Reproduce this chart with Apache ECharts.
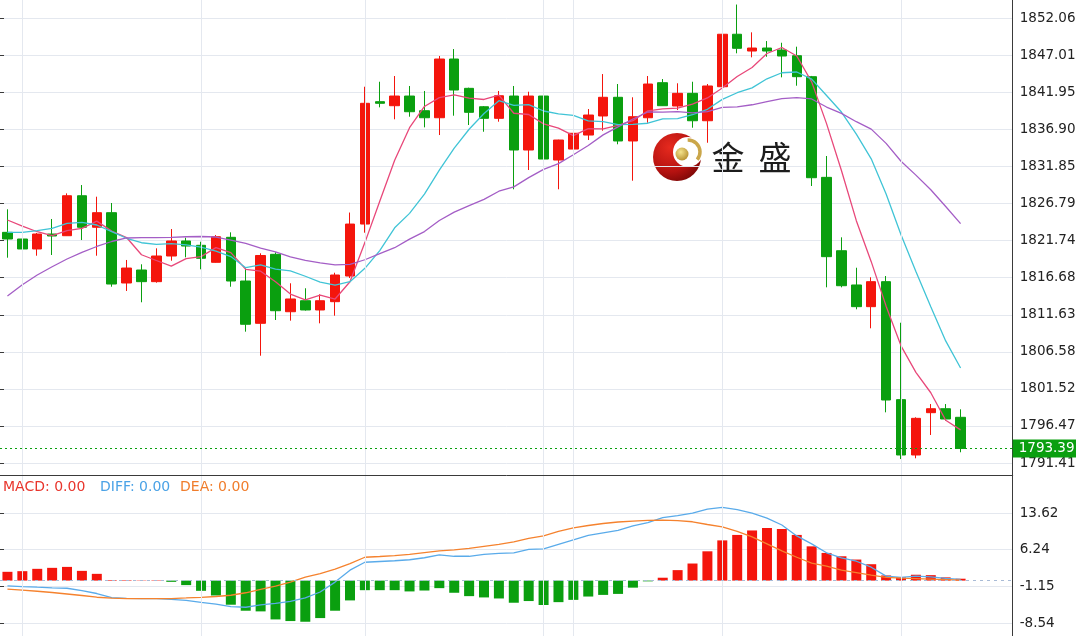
<!DOCTYPE html>
<html><head><meta charset="utf-8">
<script src="https://cdn.jsdelivr.net/npm/echarts@6/dist/echarts.min.js"></script>
<style>html,body{margin:0;padding:0;background:#fff}#c{width:1076px;height:636px}</style>
</head><body><div id="c"></div>
<script>
// ---------- data ----------
const categories = ["1","2","3","4","5","6","7","8","9","10","11","12","13","14","15","16","17","18","19","20",
"21","22","23","24","25","26","27","28","29","30","31","32","33","34","35","36","37","38","39","40",
"41","42","43","44","45","46","47","48","49","50","51","52","53","54","55","56","57","58","59","60",
"61","62","63","64","65","66","67","68"];

const opens = [1822.87,1821.96,1820.60,1822.64,1822.41,1827.86,1823.56,1825.55,1815.96,1817.73,
1816.14,1819.64,1821.69,1821.10,1818.78,1822.19,1816.23,1810.46,1819.87,1812.04,
1813.54,1812.28,1813.41,1816.91,1824.00,1840.69,1840.14,1841.46,1839.46,1838.50,
1846.51,1842.51,1840.00,1838.42,1841.46,1834.10,1841.46,1832.73,1834.23,1836.14,
1838.74,1841.29,1835.33,1838.50,1843.28,1840.10,1841.83,1838.09,1842.73,1849.89,
1847.60,1848.01,1847.74,1846.96,1844.10,1830.37,1820.36,1815.69,1812.73,1816.14,
1800.05,1792.50,1798.27,1798.81,1797.64];
const closes = [1821.96,1820.60,1822.64,1822.37,1827.86,1823.56,1825.55,1815.82,1818.00,1816.14,
1819.64,1821.69,1821.00,1819.33,1822.27,1816.23,1810.33,1819.71,1812.18,1813.78,
1812.28,1813.54,1817.05,1824.00,1840.47,1840.47,1841.46,1839.32,1838.50,1846.51,
1842.28,1839.24,1838.42,1841.50,1834.10,1841.46,1832.87,1835.46,1836.38,1838.87,
1841.29,1835.33,1838.64,1843.10,1840.14,1841.83,1838.09,1842.83,1849.89,1847.97,
1848.01,1847.60,1846.92,1844.10,1830.32,1819.55,1815.59,1812.73,1816.14,1800.00,
1792.50,1797.50,1798.81,1797.41,1793.39];
const lows = [1819.41,1812.59,1819.68,1819.78,1822.37,1821.82,1819.68,1815.45,1814.87,1813.33,
1816.00,1819.00,1819.46,1817.83,1818.73,1815.45,1809.32,1806.04,1810.91,1810.82,
1812.20,1810.46,1811.50,1816.64,1822.82,1839.92,1838.29,1838.64,1837.19,1836.14,
1838.78,1837.51,1836.59,1837.96,1828.74,1831.37,1831.60,1828.74,1831.96,1835.46,
1836.73,1834.88,1829.91,1837.82,1840.10,1839.55,1837.14,1835.09,1839.55,1847.29,
1846.74,1846.82,1844.01,1842.87,1829.19,1815.37,1815.37,1812.37,1809.78,1798.32,
1791.95,1792.05,1795.23,1797.18,1792.87];
const highs = [1826.01,1823.87,1822.78,1824.69,1828.19,1829.32,1827.73,1826.87,1819.10,1818.51,
1820.69,1823.32,1822.14,1821.59,1822.50,1822.87,1817.96,1820.01,1820.15,1815.92,
1815.24,1814.42,1817.36,1825.57,1842.73,1843.41,1844.19,1842.83,1842.15,1846.92,
1847.87,1842.60,1840.10,1842.15,1842.83,1842.05,1843.41,1835.50,1837.19,1839.69,
1844.46,1843.10,1841.29,1844.19,1843.78,1843.20,1843.41,1843.10,1852.96,1853.94,
1850.15,1848.96,1848.73,1848.19,1844.20,1833.28,1822.19,1818.04,1816.74,1816.91,
1810.54,1797.64,1799.45,1799.45,1798.73];

const ma5 = [1824.55,1823.73,1822.95,1822.41,1823.09,1823.41,1824.40,1823.03,1822.16,1819.81,
1819.03,1818.26,1819.29,1819.56,1820.79,1820.10,1817.83,1817.57,1816.14,1814.45,
1813.66,1814.30,1813.77,1816.13,1821.47,1827.11,1832.69,1837.14,1840.04,1841.25,
1841.61,1841.17,1840.99,1841.59,1839.11,1838.94,1837.67,1837.08,1836.05,1837.01,
1836.97,1837.47,1838.10,1839.45,1839.70,1839.81,1840.36,1841.20,1842.56,1844.12,
1845.36,1847.26,1848.08,1846.92,1843.39,1837.70,1831.30,1824.46,1818.87,1812.80,
1807.39,1803.77,1800.99,1797.24,1795.92];
const ma10 = [1822.87,1822.87,1823.09,1823.42,1824.10,1824.24,1823.87,1822.96,1822.06,1821.45,
1821.22,1821.33,1821.16,1820.86,1820.30,1819.57,1818.05,1818.43,1817.85,1817.62,
1816.88,1816.07,1815.67,1816.14,1817.96,1820.38,1823.49,1825.46,1828.09,1831.36,
1834.36,1836.93,1839.07,1840.82,1840.18,1840.28,1839.42,1839.03,1838.82,1838.06,
1837.96,1837.57,1837.59,1837.75,1838.35,1838.39,1838.91,1839.65,1841.00,1841.91,
1842.58,1843.81,1844.64,1844.74,1843.76,1841.53,1839.28,1836.27,1832.89,1828.10,
1822.55,1817.54,1812.72,1808.06,1804.36];
const ma20 = [1814.19,1815.73,1817.05,1818.18,1819.23,1820.14,1820.94,1821.62,1822.10,1822.14,
1822.14,1822.19,1822.27,1822.30,1822.23,1821.82,1821.35,1820.73,1820.19,1819.53,
1819.05,1818.70,1818.42,1818.50,1819.13,1819.97,1820.77,1821.94,1822.97,1824.49,
1825.62,1826.50,1827.37,1828.48,1829.07,1830.33,1831.46,1832.24,1833.45,1834.71,
1836.16,1837.25,1838.33,1839.28,1839.27,1839.34,1839.17,1839.34,1839.91,1839.98,
1840.27,1840.69,1841.11,1841.24,1841.06,1839.96,1839.10,1837.96,1836.95,1835.00,
1832.56,1830.67,1828.68,1826.40,1824.06];

const macdHist = [1.77,1.9,2.37,2.57,2.76,1.96,1.36,0.12,0.1,0.06,
0.08,-0.25,-0.91,-2.06,-3.0,-4.86,-6.07,-6.2,-7.82,-8.15,
-8.29,-7.55,-6.07,-3.99,-1.93,-1.93,-1.93,-2.18,-2.0,-1.52,
-2.45,-3.13,-3.39,-3.6,-4.46,-4.12,-4.92,-4.34,-3.88,-3.21,
-2.88,-2.68,-1.42,-0.15,0.58,2.11,3.44,5.9,8.1,9.2,
10.1,10.6,10.4,9.2,6.9,5.57,4.9,4.24,3.3,1.04,
0.64,1.18,1.1,0.65,0.38];
const diffLine = [-1.05,-1.2,-1.33,-1.45,-1.54,-2.0,-2.6,-3.45,-3.6,-3.65,
-3.62,-3.8,-4.0,-4.4,-4.75,-5.25,-5.37,-4.9,-4.6,-4.2,
-3.5,-2.3,-0.3,2.1,3.7,3.85,4.0,4.2,4.6,5.17,
4.9,4.9,5.3,5.5,5.6,6.3,6.4,7.3,8.2,9.1,
9.6,10.1,11.0,11.7,12.7,13.1,13.6,14.4,14.75,14.3,
13.6,12.6,11.2,9.0,7.4,5.6,4.6,3.9,2.7,0.9,
0.65,0.9,0.75,0.45,0.25];
const deaLine = [-1.7,-1.9,-2.15,-2.4,-2.7,-3.0,-3.35,-3.55,-3.62,-3.65,
-3.65,-3.62,-3.5,-3.36,-3.2,-2.95,-2.45,-1.75,-1.1,-0.3,
0.7,1.4,2.3,3.4,4.7,4.85,5.05,5.3,5.65,6.0,
6.2,6.5,6.9,7.3,7.8,8.5,9.0,9.9,10.6,11.1,
11.5,11.8,12.0,12.15,12.2,12.1,11.85,11.3,10.8,9.9,
8.8,7.4,6.0,4.7,3.5,2.9,2.1,1.6,1.1,0.65,
0.48,0.4,0.3,0.2,0.1];

const priceTickLabels = ["1791.41","1796.47","1801.52","1806.58","1811.63","1816.68","1821.74",
"1826.79","1831.85","1836.90","1841.95","1847.01","1852.06"];
const macdTickLabels = ["-8.54","-1.15","6.24","13.62"];
const dayBreaks = ["2","14","25","37","39","49","61"];
const lastPrice = 1793.39;
const macdLegend = [["MACD: 0.00","#e8352c"],["DIFF: 0.00","#4aa2e6"],["DEA: 0.00","#f07d2c"]];

// ---------- chart ----------
const RED = '#f4150c', GREEN = '#0a9f0f', GRIDC = '#e4e8ef', AXISC = '#3a3a3a';
const FONT = "'DejaVu Sans', Verdana, sans-serif";
const candleData = opens.map((o, i) => [o, closes[i], lows[i], highs[i]]);

const chart = echarts.init(document.getElementById('c'), null, {renderer: 'canvas'});
const gridBase = {left: 0, right: 63.3, containLabel: false, outerBoundsMode: 'none'};
const vLines = (xi, yi) => ({
  type: 'line', xAxisIndex: xi, yAxisIndex: yi, data: [], z: 1, silent: true,
  markLine: {silent: true, symbol: ['none', 'none'], animation: false,
    label: {show: false}, emphasis: {disabled: true},
    lineStyle: {color: GRIDC, width: 1, type: 'solid'},
    data: dayBreaks.map(c => ({xAxis: c}))}
});
const maLine = (name, data, color) => ({
  name, type: 'line', data, xAxisIndex: 0, yAxisIndex: 0, symbol: 'none', z: 3,
  lineStyle: {color, width: 1.3}, silent: true
});

chart.setOption({
  animation: false,
  backgroundColor: '#fff',
  textStyle: {fontFamily: FONT},
  grid: [
    Object.assign({top: 0, height: 475}, gridBase),
    Object.assign({top: 476, height: 160}, gridBase),
    Object.assign({top: 18.3, height: 444.7}, gridBase),
    Object.assign({top: 513, height: 110}, gridBase)
  ],
  xAxis: [
    {gridIndex: 0, type: 'category', data: categories, boundaryGap: true,
     axisLine: {show: true, onZero: false, lineStyle: {color: AXISC, width: 1}},
     axisTick: {show: false}, axisLabel: {show: false}, splitLine: {show: false}},
    {gridIndex: 1, type: 'category', data: categories, boundaryGap: true,
     axisLine: {show: false}, axisTick: {show: false}, axisLabel: {show: false}, splitLine: {show: false}},
    {gridIndex: 2, type: 'value', show: false, min: 0, max: 1},
    {gridIndex: 3, type: 'value', show: false, min: 0, max: 1}
  ],
  yAxis: [
    {gridIndex: 0, type: 'value', position: 'right', min: 1789.77, max: 1854.56,
     axisLine: {show: true, lineStyle: {color: AXISC, width: 1}},
     axisTick: {show: false}, axisLabel: {show: false}, splitLine: {show: false}},
    {gridIndex: 1, type: 'value', position: 'right', min: -11.16, max: 21.07,
     axisLine: {show: true, lineStyle: {color: AXISC, width: 1}},
     axisTick: {show: false}, axisLabel: {show: false}, splitLine: {show: false}},
    {gridIndex: 2, type: 'value', position: 'right', min: 0, max: priceTickLabels.length - 1, interval: 1,
     axisLine: {show: false},
     axisTick: {show: true, length: 4, lineStyle: {color: AXISC}},
     axisLabel: {show: true, margin: 7, color: '#222', fontSize: 13.5, fontFamily: FONT,
       formatter: v => priceTickLabels[Math.round(v)]},
     splitLine: {show: true, lineStyle: {color: GRIDC, width: 1}}},
    {gridIndex: 3, type: 'value', position: 'right', min: 0, max: macdTickLabels.length - 1, interval: 1,
     axisLine: {show: false},
     axisTick: {show: true, length: 4, lineStyle: {color: AXISC}},
     axisLabel: {show: true, margin: 7, color: '#222', fontSize: 13.5, fontFamily: FONT,
       formatter: v => macdTickLabels[Math.round(v)]},
     splitLine: {show: true, lineStyle: {color: GRIDC, width: 1}}}
  ],
  series: [
    vLines(0, 0),
    vLines(1, 1),
    {
      name: 'K', type: 'candlestick', data: candleData, xAxisIndex: 0, yAxisIndex: 0,
      barWidth: 10, z: 2, silent: true,
      itemStyle: {color: RED, color0: GREEN, borderColor: RED, borderColor0: GREEN, borderWidth: 1},
      markLine: {
        silent: true, symbol: ['none', 'none'], animation: false, emphasis: {disabled: true},
        lineStyle: {color: GREEN, width: 1, type: [2, 3]},
        label: {show: true, position: 'end', distance: 0, formatter: lastPrice.toFixed(2),
          color: '#fff', backgroundColor: GREEN, fontFamily: FONT, fontSize: 13.5,
          lineHeight: 16, padding: [1, 6, 1, 6]},
        data: [{yAxis: lastPrice}]
      }
    },
    maLine('MA5', ma5, '#e8487a'),
    maLine('MA10', ma10, '#40c4d6'),
    maLine('MA20', ma20, '#a45ec6'),
    {
      name: 'MACD', type: 'bar', data: macdHist, xAxisIndex: 1, yAxisIndex: 1, barWidth: 10, z: 2, silent: true,
      itemStyle: {color: p => (p.value >= 0 ? RED : GREEN)},
      markLine: {
        silent: true, symbol: ['none', 'none'], animation: false, emphasis: {disabled: true},
        label: {show: false}, lineStyle: {color: '#a9bbd6', width: 1, type: [3, 4]},
        data: [{yAxis: 0}]
      }
    },
    {name: 'DIFF', type: 'line', data: diffLine, xAxisIndex: 1, yAxisIndex: 1, symbol: 'none', z: 3,
     silent: true, lineStyle: {color: '#5aabea', width: 1.3}},
    {name: 'DEA', type: 'line', data: deaLine, xAxisIndex: 1, yAxisIndex: 1, symbol: 'none', z: 3,
     silent: true, lineStyle: {color: '#f5822e', width: 1.3}}
  ],
  graphic: [
    // MACD legend
    {type: 'text', left: 3, top: 480, z: 10, style: {text: macdLegend[0][0], fill: macdLegend[0][1], font: '14px ' + FONT}},
    {type: 'text', left: 100, top: 480, z: 10, style: {text: macdLegend[1][0], fill: macdLegend[1][1], font: '14px ' + FONT}},
    {type: 'text', left: 180, top: 480, z: 10, style: {text: macdLegend[2][0], fill: macdLegend[2][1], font: '14px ' + FONT}},
    // watermark logo
    {type: 'group', z: 1, children: [
      {type: 'circle', shape: {cx: 677, cy: 157, r: 24},
       style: {fill: new echarts.graphic.RadialGradient(0.35, 0.3, 0.85, [
         {offset: 0, color: '#e62a1e'}, {offset: 0.6, color: '#b51210'}, {offset: 1, color: '#6a0404'}])}},
      {type: 'circle', shape: {cx: 688, cy: 152, r: 15}, style: {fill: '#ffffff'}},
      {type: 'arc', shape: {cx: 688, cy: 152, r: 12, startAngle: -1.6, endAngle: 0.7},
       style: {stroke: '#caa64a', lineWidth: 3.5, fill: null}},
      {type: 'circle', shape: {cx: 682, cy: 154, r: 6.5},
       style: {fill: new echarts.graphic.RadialGradient(0.4, 0.35, 0.7, [
         {offset: 0, color: '#f4e38c'}, {offset: 1, color: '#b58d2c'}])}}
    ]},
    {type: 'text', z: 1, x: 728, y: 157, style: {text: '金', fill: '#1c1c1c', align: 'center', verticalAlign: 'middle',
      font: '33px "Noto Sans CJK SC", sans-serif'}},
    {type: 'text', z: 1, x: 775, y: 157, style: {text: '盛', fill: '#1c1c1c', align: 'center', verticalAlign: 'middle',
      font: '33px "Noto Sans CJK SC", sans-serif'}}
  ]
});
</script>
</body></html>
